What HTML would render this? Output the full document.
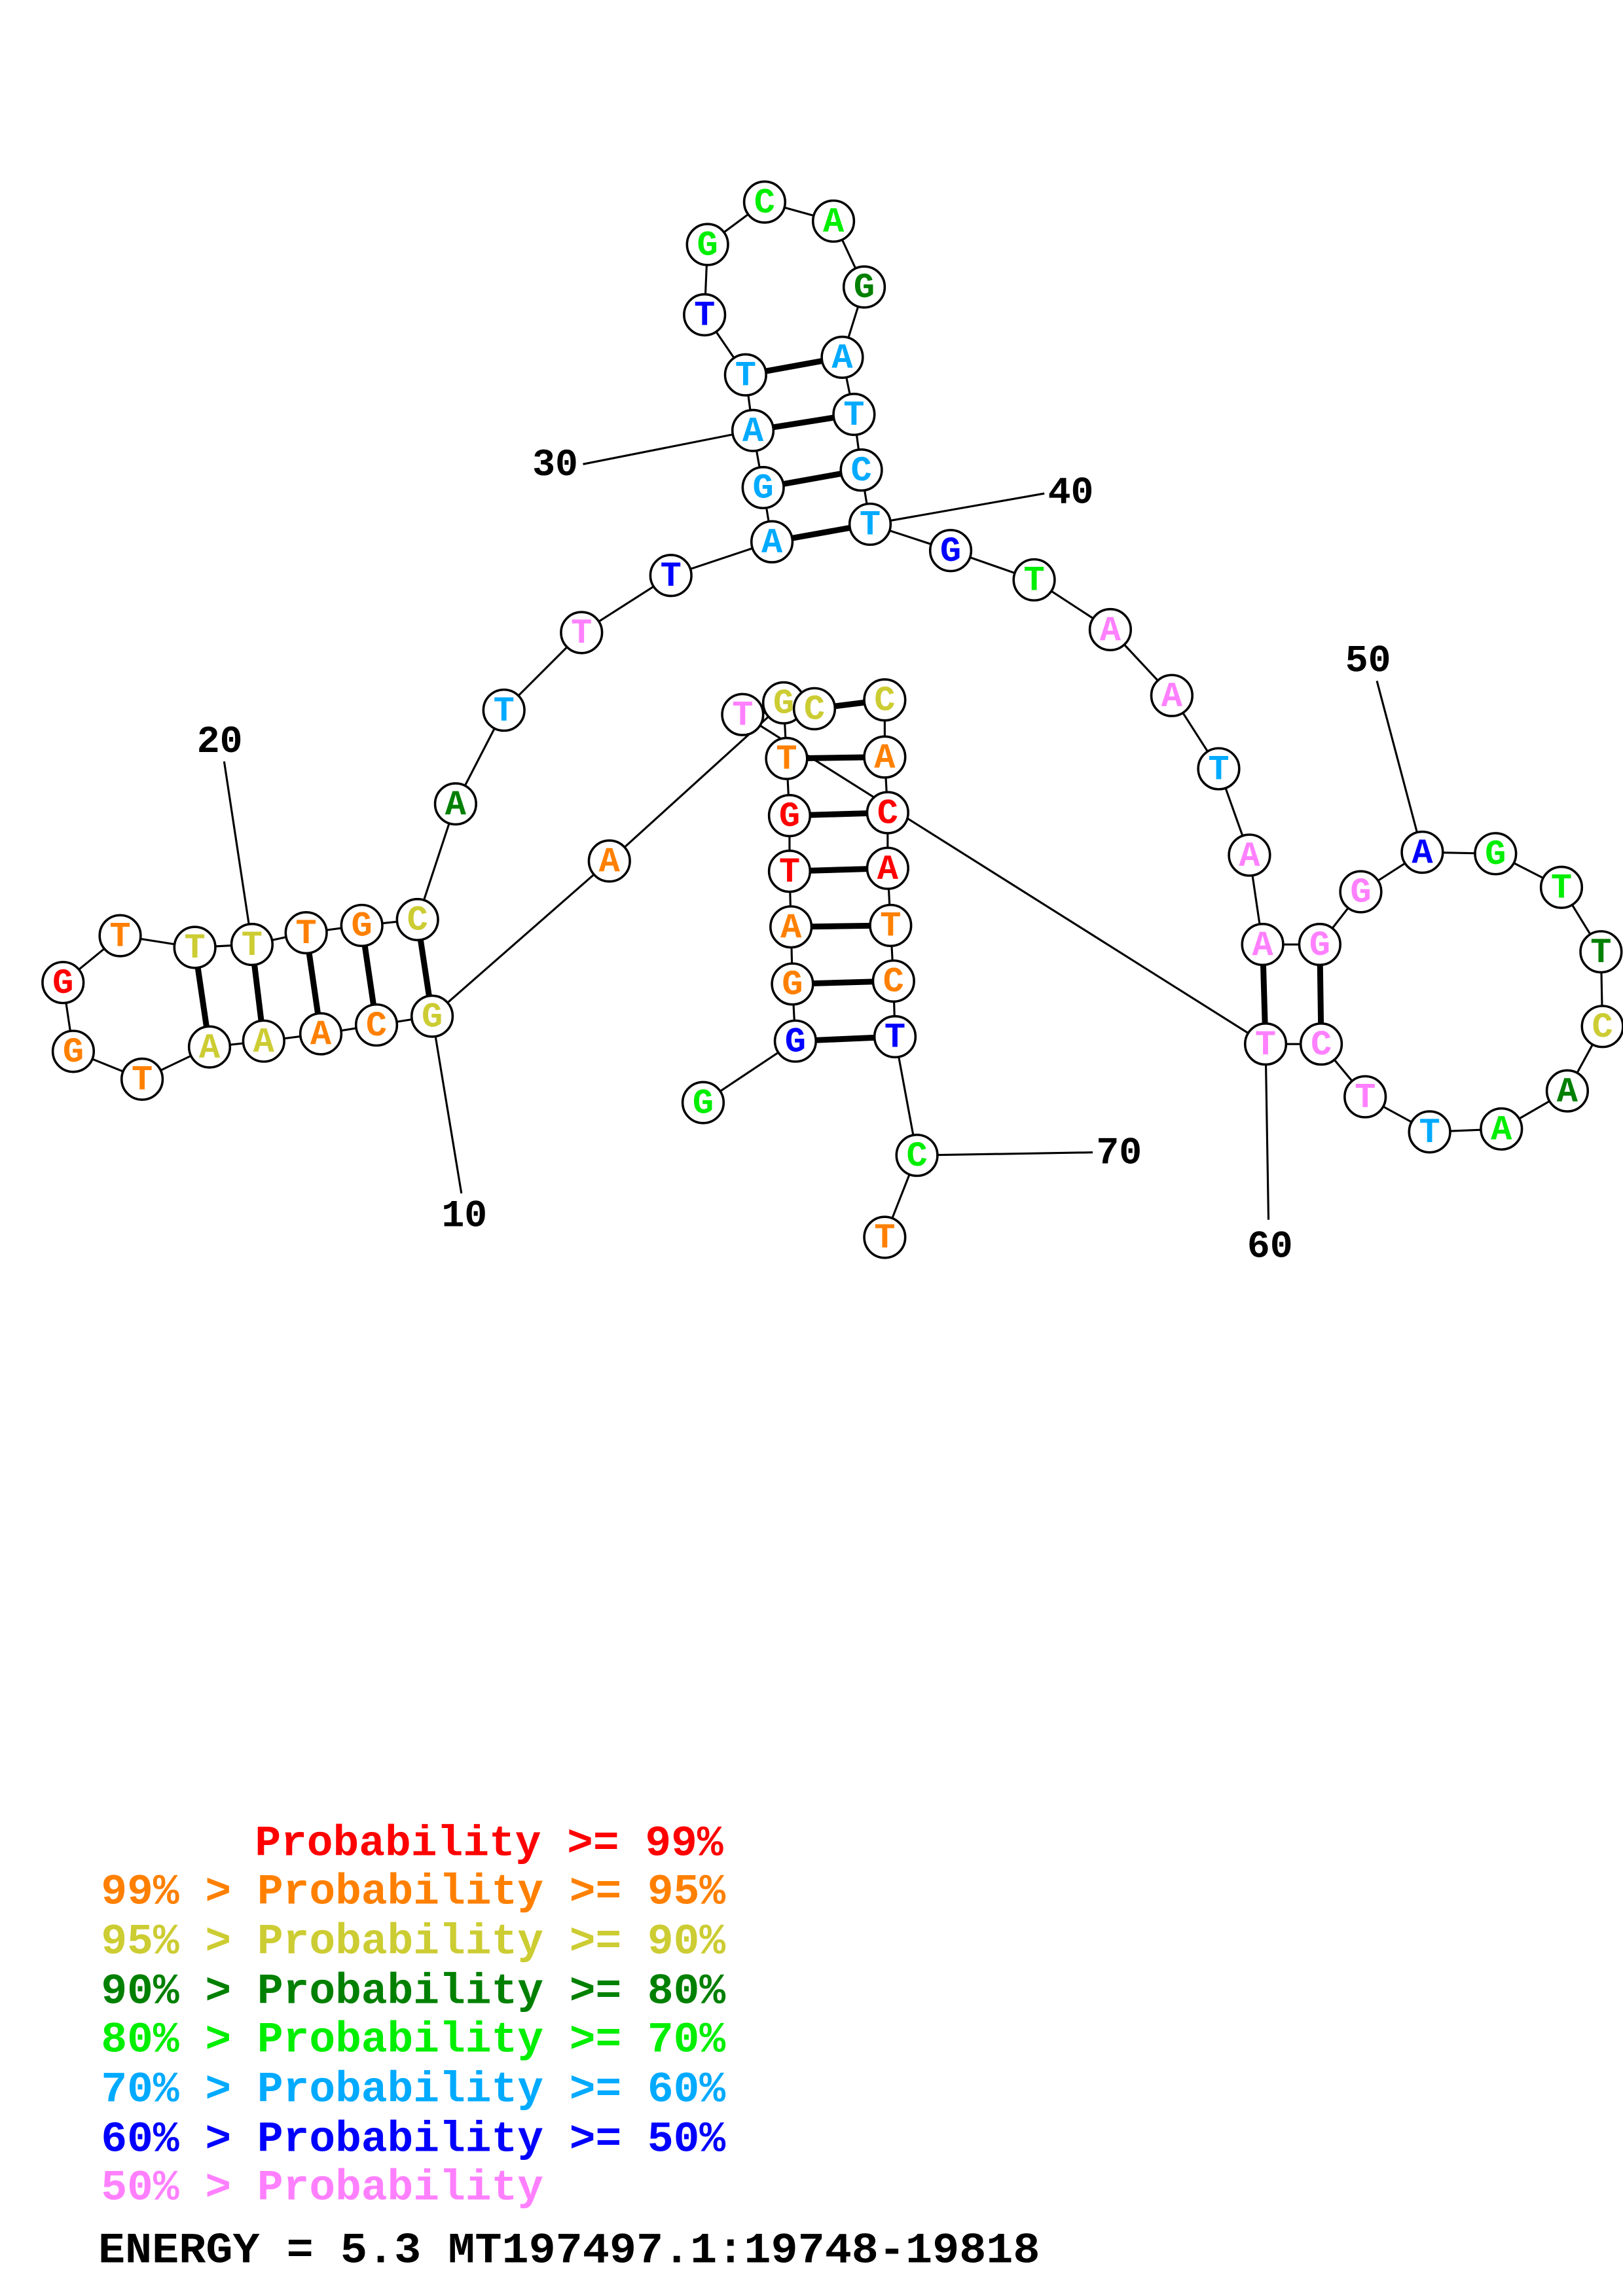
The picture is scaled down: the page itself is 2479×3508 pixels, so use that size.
<!DOCTYPE html>
<html><head><meta charset="utf-8"><style>
html,body{margin:0;padding:0;background:#fff;}
svg{display:block;}
.n{font-family:"Liberation Mono",monospace;font-weight:bold;font-size:24px;text-anchor:middle;}
.lb{font-family:"Liberation Mono",monospace;font-weight:bold;font-size:26px;text-anchor:middle;fill:#000;}
.lg{font-family:"Liberation Mono",monospace;font-weight:bold;font-size:29.6px;white-space:pre;}
</style></head><body>
<svg width="2479" height="3508" viewBox="0 0 1108 1568" xmlns="http://www.w3.org/2000/svg">
<rect width="1108" height="1568" fill="#fff"/>
<g stroke="#000" stroke-width="1.4" fill="none">
<polyline points="480,753 543,711 541,672 540,633 539,595 539,557 537,518 535,480 416,588 295,694 257,700 219,706 180,711 143,715 97,737 50,718 43,671 82,639 133,647 172,645 209,637 247,632 285,628 311,549 344,485 397,432 458,393 527,370 521,333 514,294 509,256 481,215 483,167 522,138 569,151 590,196 575,244 583,283 588,321 594,358 649,376 706,396 758,430 800,475 832,525 853,584 862,645 901,645 929,609 971,582 1021,583 1066,606 1093,650 1094,701 1070,745 1025,771 976,773 932,749 902,713 864,713 507,488 556,484 604,478 604,517 606,555 606,593 608,632 610,670 611,708 626,789 604,845"/>
<line x1="295" y1="694" x2="315" y2="815"/>
<line x1="172" y1="645" x2="153" y2="520"/>
<line x1="514" y1="294" x2="398" y2="317"/>
<line x1="594" y1="358" x2="713" y2="337"/>
<line x1="971" y1="582" x2="940" y2="465"/>
<line x1="864" y1="713" x2="866" y2="833"/>
<line x1="626" y1="789" x2="746" y2="787"/>
</g>
<g stroke="#000" stroke-width="4" fill="none">
<line x1="543" y1="711" x2="611" y2="708"/>
<line x1="541" y1="672" x2="610" y2="670"/>
<line x1="540" y1="633" x2="608" y2="632"/>
<line x1="539" y1="595" x2="606" y2="593"/>
<line x1="539" y1="557" x2="606" y2="555"/>
<line x1="537" y1="518" x2="604" y2="517"/>
<line x1="556" y1="484" x2="604" y2="478"/>
<line x1="295" y1="694" x2="285" y2="628"/>
<line x1="257" y1="700" x2="247" y2="632"/>
<line x1="219" y1="706" x2="209" y2="637"/>
<line x1="180" y1="711" x2="172" y2="645"/>
<line x1="143" y1="715" x2="133" y2="647"/>
<line x1="527" y1="370" x2="594" y2="358"/>
<line x1="521" y1="333" x2="588" y2="321"/>
<line x1="514" y1="294" x2="583" y2="283"/>
<line x1="509" y1="256" x2="575" y2="244"/>
<line x1="862" y1="645" x2="864" y2="713"/>
<line x1="901" y1="645" x2="902" y2="713"/>
</g>
<g stroke="#000" stroke-width="1.6" fill="#fff">
<circle cx="480" cy="753" r="14"/><circle cx="543" cy="711" r="14"/><circle cx="541" cy="672" r="14"/><circle cx="540" cy="633" r="14"/><circle cx="539" cy="595" r="14"/><circle cx="539" cy="557" r="14"/><circle cx="537" cy="518" r="14"/><circle cx="507" cy="488" r="14"/><circle cx="535" cy="480" r="14"/><circle cx="556" cy="484" r="14"/>
<circle cx="416" cy="588" r="14"/><circle cx="295" cy="694" r="14"/><circle cx="257" cy="700" r="14"/><circle cx="219" cy="706" r="14"/><circle cx="180" cy="711" r="14"/><circle cx="143" cy="715" r="14"/><circle cx="97" cy="737" r="14"/><circle cx="50" cy="718" r="14"/><circle cx="43" cy="671" r="14"/><circle cx="82" cy="639" r="14"/><circle cx="133" cy="647" r="14"/><circle cx="172" cy="645" r="14"/><circle cx="209" cy="637" r="14"/><circle cx="247" cy="632" r="14"/><circle cx="285" cy="628" r="14"/>
<circle cx="311" cy="549" r="14"/><circle cx="344" cy="485" r="14"/><circle cx="397" cy="432" r="14"/><circle cx="458" cy="393" r="14"/><circle cx="527" cy="370" r="14"/><circle cx="521" cy="333" r="14"/><circle cx="514" cy="294" r="14"/><circle cx="509" cy="256" r="14"/><circle cx="481" cy="215" r="14"/><circle cx="483" cy="167" r="14"/><circle cx="522" cy="138" r="14"/><circle cx="569" cy="151" r="14"/><circle cx="590" cy="196" r="14"/><circle cx="575" cy="244" r="14"/><circle cx="583" cy="283" r="14"/><circle cx="588" cy="321" r="14"/><circle cx="594" cy="358" r="14"/>
<circle cx="649" cy="376" r="14"/><circle cx="706" cy="396" r="14"/><circle cx="758" cy="430" r="14"/><circle cx="800" cy="475" r="14"/><circle cx="832" cy="525" r="14"/><circle cx="853" cy="584" r="14"/><circle cx="862" cy="645" r="14"/><circle cx="901" cy="645" r="14"/><circle cx="929" cy="609" r="14"/><circle cx="971" cy="582" r="14"/><circle cx="1021" cy="583" r="14"/><circle cx="1066" cy="606" r="14"/><circle cx="1093" cy="650" r="14"/><circle cx="1094" cy="701" r="14"/><circle cx="1070" cy="745" r="14"/><circle cx="1025" cy="771" r="14"/><circle cx="976" cy="773" r="14"/><circle cx="932" cy="749" r="14"/><circle cx="902" cy="713" r="14"/><circle cx="864" cy="713" r="14"/>
<circle cx="604" cy="478" r="14"/><circle cx="604" cy="517" r="14"/><circle cx="606" cy="555" r="14"/><circle cx="606" cy="593" r="14"/><circle cx="608" cy="632" r="14"/><circle cx="610" cy="670" r="14"/><circle cx="611" cy="708" r="14"/><circle cx="626" cy="789" r="14"/><circle cx="604" cy="845" r="14"/>
</g>
<g class="n" dominant-baseline="central">
<text x="480" y="754" fill="#00ee00">G</text><text x="543" y="712" fill="#0000ff">G</text><text x="541" y="673" fill="#ff8000">G</text><text x="540" y="634" fill="#ff8000">A</text><text x="539" y="596" fill="#ff0000">T</text><text x="539" y="558" fill="#ff0000">G</text><text x="537" y="519" fill="#ff8000">T</text><text x="507" y="489" fill="#ff80ff">T</text><text x="535" y="481" fill="#cccc33">G</text><text x="556" y="485" fill="#cccc33">C</text>
<text x="416" y="589" fill="#ff8000">A</text><text x="295" y="695" fill="#cccc33">G</text><text x="257" y="701" fill="#ff8000">C</text><text x="219" y="707" fill="#ff8000">A</text><text x="180" y="712" fill="#cccc33">A</text><text x="143" y="716" fill="#cccc33">A</text><text x="97" y="738" fill="#ff8000">T</text><text x="50" y="719" fill="#ff8000">G</text><text x="43" y="672" fill="#ff0000">G</text><text x="82" y="640" fill="#ff8000">T</text><text x="133" y="648" fill="#cccc33">T</text><text x="172" y="646" fill="#cccc33">T</text><text x="209" y="638" fill="#ff8000">T</text><text x="247" y="633" fill="#ff8000">G</text><text x="285" y="629" fill="#cccc33">C</text>
<text x="311" y="550" fill="#008000">A</text><text x="344" y="486" fill="#00aaff">T</text><text x="397" y="433" fill="#ff80ff">T</text><text x="458" y="394" fill="#0000ff">T</text><text x="527" y="371" fill="#00aaff">A</text><text x="521" y="334" fill="#00aaff">G</text><text x="514" y="295" fill="#00aaff">A</text><text x="509" y="257" fill="#00aaff">T</text><text x="481" y="216" fill="#0000ff">T</text><text x="483" y="168" fill="#00ee00">G</text><text x="522" y="139" fill="#00ee00">C</text><text x="569" y="152" fill="#00ee00">A</text><text x="590" y="197" fill="#008000">G</text><text x="575" y="245" fill="#00aaff">A</text><text x="583" y="284" fill="#00aaff">T</text><text x="588" y="322" fill="#00aaff">C</text><text x="594" y="359" fill="#00aaff">T</text>
<text x="649" y="377" fill="#0000ff">G</text><text x="706" y="397" fill="#00ee00">T</text><text x="758" y="431" fill="#ff80ff">A</text><text x="800" y="476" fill="#ff80ff">A</text><text x="832" y="526" fill="#00aaff">T</text><text x="853" y="585" fill="#ff80ff">A</text><text x="862" y="646" fill="#ff80ff">A</text><text x="901" y="646" fill="#ff80ff">G</text><text x="929" y="610" fill="#ff80ff">G</text><text x="971" y="583" fill="#0000ff">A</text><text x="1021" y="584" fill="#00ee00">G</text><text x="1066" y="607" fill="#00ee00">T</text><text x="1093" y="651" fill="#008000">T</text><text x="1094" y="702" fill="#cccc33">C</text><text x="1070" y="746" fill="#008000">A</text><text x="1025" y="772" fill="#00ee00">A</text><text x="976" y="774" fill="#00aaff">T</text><text x="932" y="750" fill="#ff80ff">T</text><text x="902" y="714" fill="#ff80ff">C</text><text x="864" y="714" fill="#ff80ff">T</text>
<text x="604" y="479" fill="#cccc33">C</text><text x="604" y="518" fill="#ff8000">A</text><text x="606" y="556" fill="#ff0000">C</text><text x="606" y="594" fill="#ff0000">A</text><text x="608" y="633" fill="#ff8000">T</text><text x="610" y="671" fill="#ff8000">C</text><text x="611" y="709" fill="#0000ff">T</text><text x="626" y="790" fill="#00ee00">C</text><text x="604" y="846" fill="#ff8000">T</text>
</g>
<g class="lb" dominant-baseline="central">
<text x="317" y="831">10</text><text x="150" y="507">20</text><text x="379" y="318">30</text><text x="731" y="337">40</text><text x="934" y="452">50</text><text x="867" y="852">60</text><text x="764" y="788">70</text>
</g>
<g class="lg">
<text x="174" y="1267" fill="#ff0000">Probability &gt;= 99%</text>
<text x="69" y="1300" fill="#ff8000">99% &gt; Probability &gt;= 95%</text>
<text x="69" y="1334" fill="#cccc33">95% &gt; Probability &gt;= 90%</text>
<text x="69" y="1368" fill="#008000">90% &gt; Probability &gt;= 80%</text>
<text x="69" y="1401" fill="#00ee00">80% &gt; Probability &gt;= 70%</text>
<text x="69" y="1435" fill="#00aaff">70% &gt; Probability &gt;= 60%</text>
<text x="69" y="1469" fill="#0000ff">60% &gt; Probability &gt;= 50%</text>
<text x="69" y="1502" fill="#ff80ff">50% &gt; Probability</text>
<text x="67" y="1545" fill="#000" textLength="643" lengthAdjust="spacingAndGlyphs">ENERGY = 5.3  MT197497.1:19748-19818</text>
</g>
</svg>
</body></html>
